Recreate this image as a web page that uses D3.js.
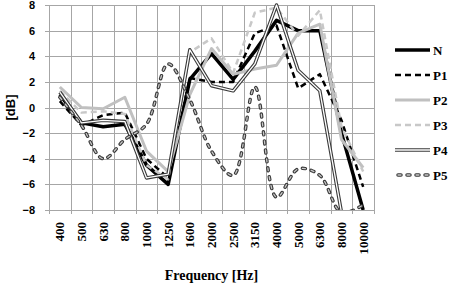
<!DOCTYPE html>
<html>
<head>
<meta charset="utf-8">
<script src="https://cdn.jsdelivr.net/npm/d3@7"></script>
<style>
  body { margin: 0; background: #fff; }
  svg { display: block; }
</style>
</head>
<body>
<script>
const freqs = ["400", "500", "630", "800", "1000", "1250", "1600", "2000", "2500", "3150", "4000", "5000", "6300", "8000", "10000"];
const yTicks = [-8, -6, -4, -2, 0, 2, 4, 6, 8];

const N  = [1.0, -1.2, -1.5, -1.3, -4.5, -6.0, 2.2, 4.2, 2.2, 4.4, 6.8, 6.0, 6.0, -2.0, -8.0];
const P1 = [0.5, -1.4, -0.6, -0.4, -4.0, -5.5, 2.3, 2.0, 2.0, 5.8, 6.4, 1.5, 2.6, -1.0, -6.2];
const P2 = [1.6, 0.0, -0.1, 0.8, -3.4, -5.0, 1.0, 4.6, 2.6, 3.0, 3.3, 5.8, 6.5, -2.5, -4.7];
const P3 = [1.3, -0.4, -0.3, -0.5, -4.5, -5.6, 4.3, 5.4, 2.7, 7.4, 7.8, 5.6, 7.6, -1.5, -5.0];
const P4 = [1.2, -1.2, -1.0, -1.1, -5.5, -5.2, 4.5, 1.7, 1.3, 3.4, 8.0, 2.9, 1.3, -8.2, -9.0];
const P5 = [0.8, -1.4, -4.0, -2.5, -1.3, 3.4, 0.6, -3.4, -5.3, 1.6, -7.0, -4.8, -5.3, -8.2, -7.6];

const seriesNames = ["N", "P1", "P2", "P3", "P4", "P5"];
const seriesData = [N, P1, P2, P3, P4, P5];

const width = 454, height = 286;
const plotL = 49, plotR = 374, plotT = 5, plotB = 210;

const svg = d3.select("body").append("svg")
  .attr("width", width).attr("height", height);

const x = d3.scaleBand().domain(freqs).range([plotL, plotR]).padding(0);
const y = d3.scaleLinear().domain([-8, 8]).range([plotB, plotT]);
const cx = d => x(d) + x.bandwidth() / 2;

// grid
const grid = svg.append("g").attr("stroke", "#a6a6a6").attr("stroke-width", 1);
grid.selectAll("line.h").data(yTicks).enter().append("line")
  .attr("x1", plotL - 4).attr("x2", plotR)
  .attr("y1", d => Math.round(y(d)) + 0.5).attr("y2", d => Math.round(y(d)) + 0.5);
const edges = freqs.map(f => x(f)).concat([plotR]);
grid.selectAll("line.v").data(edges).enter().append("line")
  .attr("x1", d => Math.round(d) + 0.5).attr("x2", d => Math.round(d) + 0.5)
  .attr("y1", plotT).attr("y2", plotB + 4);

// y axis labels
const yAxis = svg.append("g")
  .attr("transform", `translate(${plotL},0)`)
  .call(d3.axisLeft(y).tickValues(yTicks).tickSize(0).tickPadding(14));
yAxis.select(".domain").remove();
yAxis.selectAll("text")
  .style("font-family", "'Liberation Sans', Arial, sans-serif")
  .style("font-weight", "bold").style("font-size", "11px").attr("fill", "#000");

// x axis labels
const xAxis = svg.append("g")
  .attr("transform", `translate(0,${plotB})`)
  .call(d3.axisBottom(x).tickSize(0));
xAxis.select(".domain").remove();
xAxis.selectAll("text")
  .attr("transform", "rotate(-90)")
  .attr("x", -12).attr("y", 0).attr("dy", "0.35em")
  .style("text-anchor", "end")
  .style("font-family", "'Liberation Serif', 'Times New Roman', serif")
  .style("font-weight", "bold")
  .style("font-size", "13px").attr("fill", "#000");

svg.append("text")
  .attr("x", (plotL + plotR) / 2).attr("y", 280)
  .attr("text-anchor", "middle")
  .style("font-family", "'Liberation Serif', 'Times New Roman', serif")
  .style("font-weight", "bold").style("font-size", "14px")
  .text("Frequency [Hz]");

svg.append("text")
  .attr("transform", `translate(15,${y(0)}) rotate(-90)`)
  .attr("text-anchor", "middle")
  .style("font-family", "'Liberation Sans', Arial, sans-serif")
  .style("font-weight", "bold").style("font-size", "13px")
  .text("[dB]");

svg.append("clipPath").attr("id", "plot")
  .append("rect").attr("x", plotL).attr("y", plotT - 3)
  .attr("width", plotR - plotL).attr("height", plotB - plotT + 3);

// line styles, each entry is a list of stroke layers
const styles = {
  N:  [{ stroke: "#000", w: 3.5 }],
  P1: [{ stroke: "#000", w: 2.5, dash: "6,4" }],
  P2: [{ stroke: "#c0c0c0", w: 3 }],
  P3: [{ stroke: "#c8c8c8", w: 2.5, dash: "6,4" }],
  P4: [{ stroke: "#3a3a3a", w: 3.5 }, { stroke: "#fff", w: 1.3 }],
  P5: [{ stroke: "#3a3a3a", w: 3.5, dash: "3,6", cap: "round" }, { stroke: "#c8c8c8", w: 1.3, dash: "3,6", cap: "round" }]
};

const straight = d3.line().x((d, i) => cx(freqs[i])).y(d => y(d));
const smooth = d3.line().x((d, i) => cx(freqs[i])).y(d => y(d)).curve(d3.curveCatmullRom.alpha(0.5));

const lines = svg.append("g").attr("clip-path", "url(#plot)").attr("fill", "none");
seriesNames.forEach((name, k) => {
  const gen = name === "P5" ? smooth : straight;
  styles[name].forEach(s => {
    lines.append("path")
      .datum(seriesData[k])
      .attr("d", gen)
      .attr("stroke", s.stroke)
      .attr("stroke-width", s.w)
      .attr("stroke-dasharray", s.dash || null)
      .attr("stroke-linecap", s.cap || "butt")
      .attr("stroke-linejoin", "round");
  });
});

// legend
const legend = svg.append("g");
seriesNames.forEach((name, k) => {
  const ly = 50 + k * 25;
  styles[name].forEach(s => {
    legend.append("line")
      .attr("x1", name === "P5" ? 398 : 395).attr("x2", 430)
      .attr("y1", ly).attr("y2", ly)
      .attr("stroke", s.stroke).attr("stroke-width", s.w)
      .attr("stroke-dasharray", s.dash || null)
      .attr("stroke-linecap", s.cap || "butt");
  });
  legend.append("text")
    .attr("x", 433).attr("y", ly).attr("dy", "0.35em")
    .style("font-family", "'Liberation Serif', 'Times New Roman', serif")
    .style("font-weight", "bold").style("font-size", "13px")
    .text(name);
});
</script>
</body>
</html>
